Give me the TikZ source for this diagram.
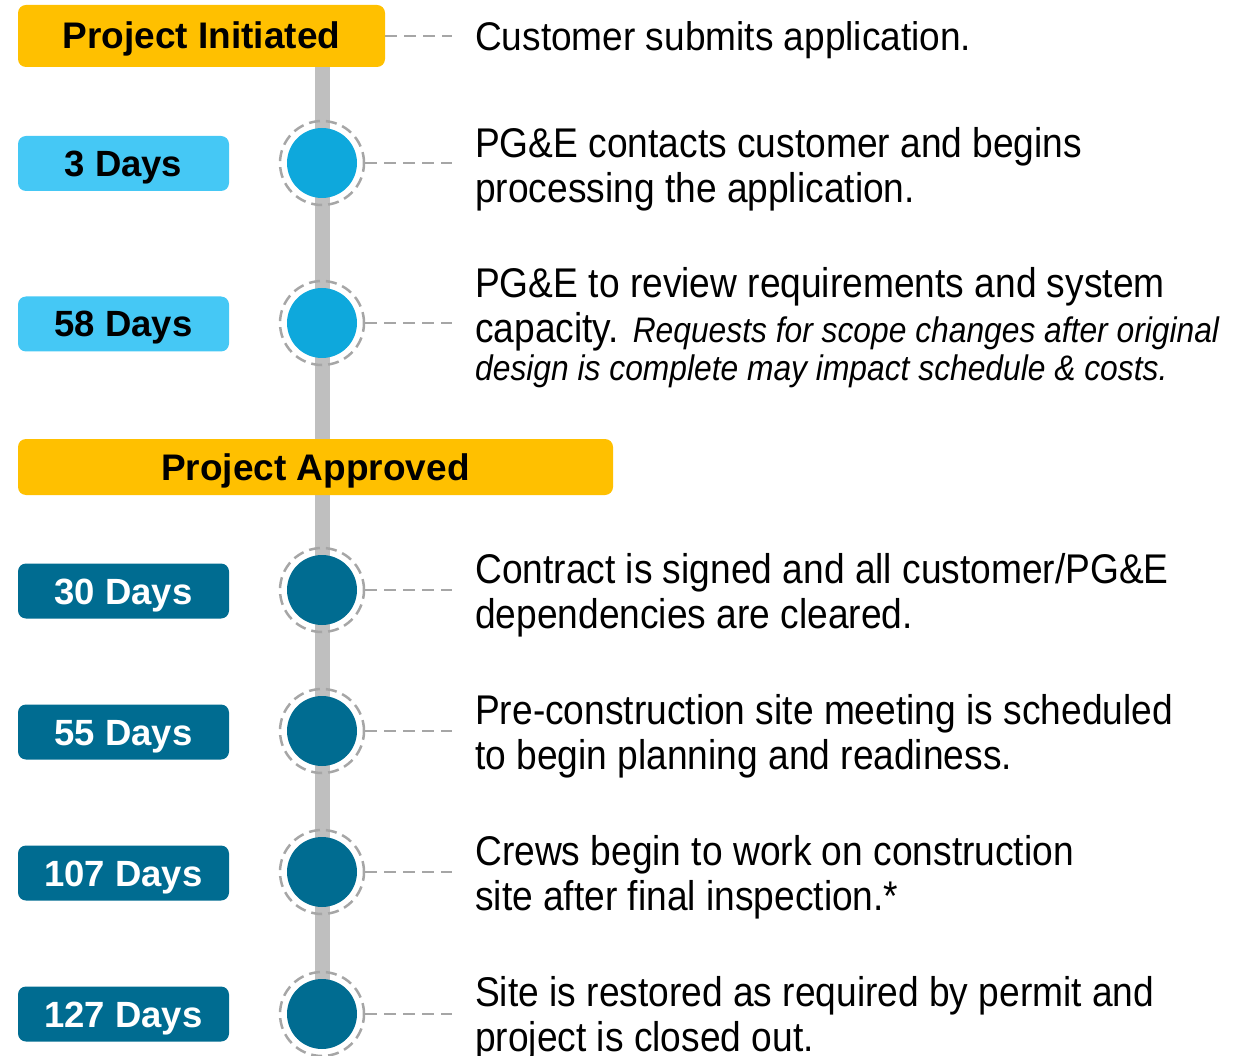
\documentclass[tikz,border=0pt]{standalone}
\usepackage{fontspec}
\setmainfont{Liberation Sans}
\newfontfamily\descfont[FakeStretch=0.895]{Liberation Sans}
\newfontfamily\leadfont[FakeStretch=0.926]{Liberation Sans}
\usetikzlibrary{backgrounds}

\definecolor{gold}{HTML}{FFC000}
\definecolor{skybox}{HTML}{45C8F5}
\definecolor{skydot}{HTML}{0EA8DC}
\definecolor{deepteal}{HTML}{006C91}
\definecolor{spinegray}{HTML}{BFBFBF}
\definecolor{dashgray}{HTML}{A6A6A6}

\tikzset{
  milestone/.style={fill=gold, rounded corners=8pt, inner sep=0pt,
    text height=26pt, text depth=0pt,
    font=\fontsize{37}{44}\selectfont\bfseries, text=black},
  daybox/.style={rounded corners=8pt, inner sep=0pt, minimum width=211pt,
    minimum height=55pt, text height=26pt, text depth=0pt,
    font=\fontsize{36.5}{44}\selectfont\bfseries},
  earlyday/.style={daybox, fill=skybox, text=black},
  lateday/.style={daybox, fill=deepteal, text=white},
  dot/.style={circle, inner sep=0pt, minimum size=70pt},
  ring/.style={circle, inner sep=0pt, minimum size=84pt, draw=dashgray,
    line width=2.5pt, dash pattern=on 11pt off 6pt},
  link/.style={draw=dashgray, line width=2.5pt, dash pattern=on 12pt off 7pt},
  spine/.style={draw=spinegray, line width=15pt},
  desc/.style={anchor=base west, inner sep=0pt,
    font=\descfont\fontsize{41.5}{45}\selectfont},
  note/.style={anchor=base west, inner sep=0pt,
    font=\descfont\itshape\fontsize{35.5}{40}\selectfont},
}

\begin{document}
\begin{tikzpicture}[x=1pt, y=-1pt]
\useasboundingbox (0,0) rectangle (1250,1056);

% milestone bars
\node[milestone, minimum width=367pt, minimum height=62pt] (init) at (201.5,36) {Project Initiated};
\node[milestone, minimum width=595pt, minimum height=56pt] (appr) at (315.5,467) {Project Approved};

% duration labels
\node[earlyday] (b1) at (123.5,163.5) {3 Days};
\node[earlyday] (b2) at (123.5,324) {58 Days};
\node[lateday]  (b3) at (123.5,591) {30 Days};
\node[lateday]  (b4) at (123.5,732) {55 Days};
\node[lateday]  (b5) at (123.5,873) {107 Days};
\node[lateday]  (b6) at (123.5,1014) {127 Days};

% timeline dots with dashed halos
\foreach \n/\y/\c in {1/163/skydot, 2/323/skydot, 3/590/deepteal,
                      4/731/deepteal, 5/872/deepteal, 6/1014/deepteal} {
  \node[dot, fill=\c] (c\n) at (322,\y) {};
  \node[ring] (r\n) at (322,\y) {};
  \coordinate (e\n) at (452,\y);
  \draw[link] (r\n.east) -- (e\n);
}
\coordinate (e0) at (452,36);
\draw[link] (init.east) -- (e0);

% vertical timeline behind everything
\begin{pgfonlayer}{background}
  \draw[spine] (c1 |- init.south) -- (c6.center);
\end{pgfonlayer}

% descriptions
\node[anchor=base west, inner sep=0pt, font=\leadfont\fontsize{40}{45}\selectfont]
  (t0) at (475,51) {Customer submits application.};

\node[desc] (t1a) at (475,158) {PG\&E contacts customer and begins};
\node[desc] (t1b) at (475,203) {processing the application.};

\node[desc] (t2a) at (475,298) {PG\&E to review requirements and system};
\node[desc] (t2b) at (475,343) {capacity. {\itshape\fontsize{35.5}{40}\selectfont Requests for scope changes after original}};
\node[note] (t2c) at (475,381) {design is complete may impact schedule \& costs.};

\node[desc] (t3a) at (475,583) {Contract is signed and all customer/PG\&E};
\node[desc] (t3b) at (475,628) {dependencies are cleared.};

\node[desc] (t4a) at (475,724) {Pre-construction site meeting is scheduled};
\node[desc] (t4b) at (475,769) {to begin planning and readiness.};

\node[desc] (t5a) at (475,865) {Crews begin to work on construction};
\node[desc] (t5b) at (475,910) {site after final inspection.*};

\node[desc] (t6a) at (475,1006) {Site is restored as required by permit and};
\node[desc] (t6b) at (475,1051) {project is closed out.};
\end{tikzpicture}
\end{document}
